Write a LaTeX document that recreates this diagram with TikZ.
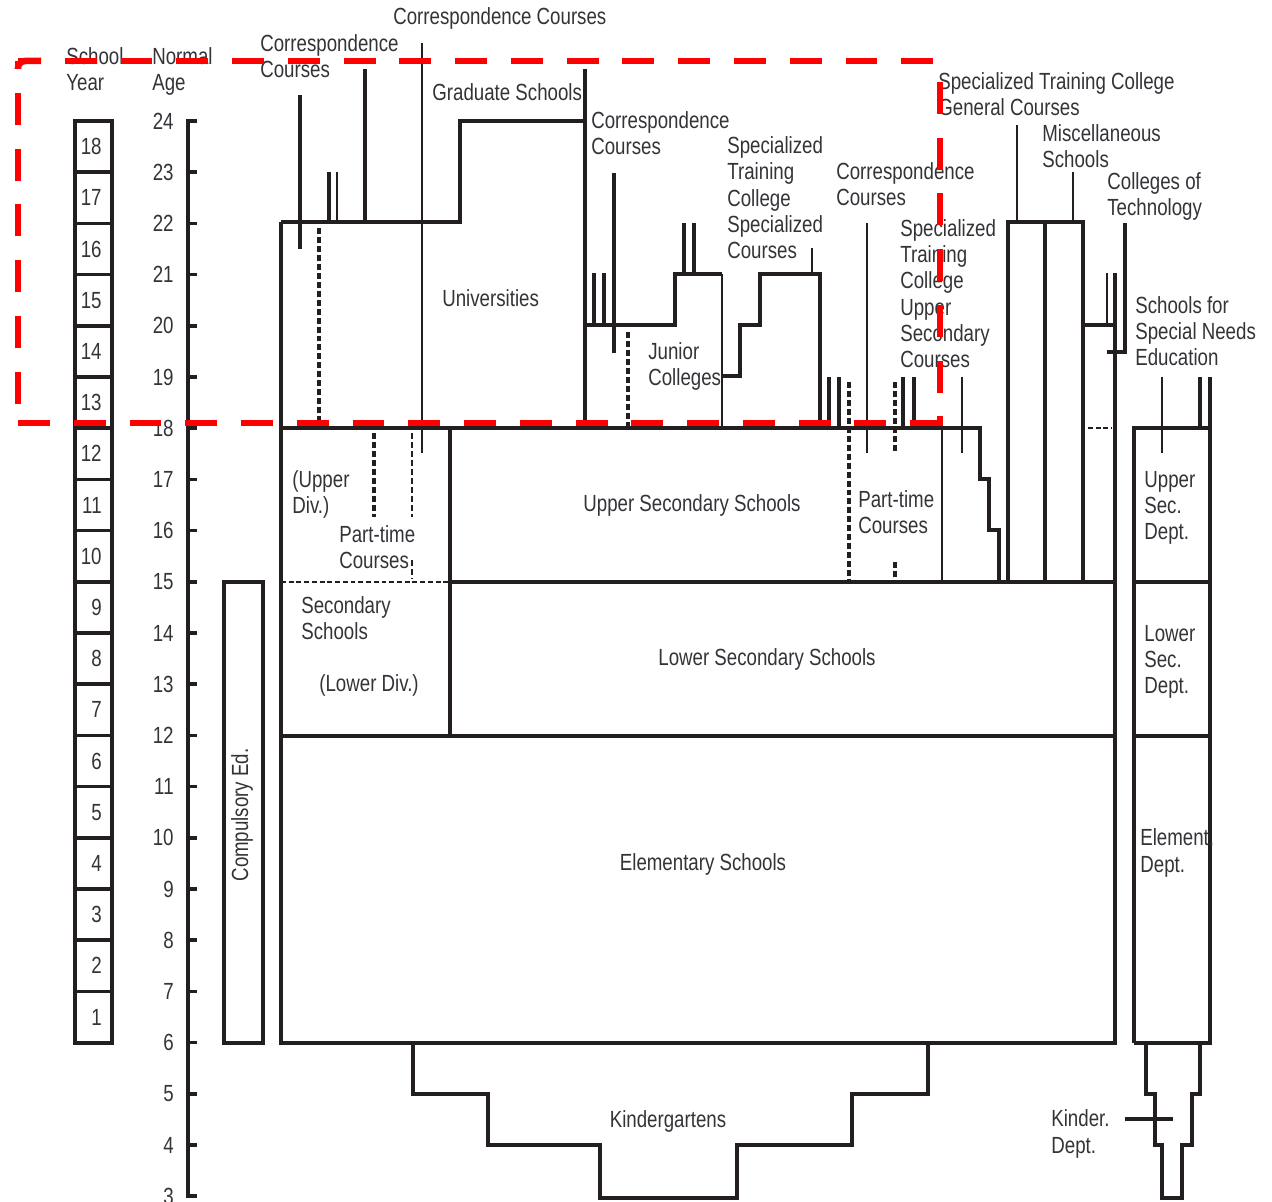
\documentclass[tikz,border=0pt]{standalone}
\usepackage{fontspec}
\setmainfont{Liberation Sans}[FakeStretch=0.8]
\definecolor{ln}{HTML}{231F20}
\definecolor{tx}{HTML}{333338}
\begin{document}
\begin{tikzpicture}[x=0.02cm,y=-0.02cm,
  thk/.style={draw=ln,line width=2.1pt},
  thn/.style={draw=ln,line width=0.9pt},
  dotk/.style={draw=ln,line width=2.1pt,dash pattern=on 3.4pt off 1.7pt},
  dotn/.style={draw=ln,line width=0.9pt,dash pattern=on 3.4pt off 1.7pt},
  dsh/.style={draw=ln,line width=0.9pt,dash pattern=on 2.8pt off 1.6pt},
  lbl/.style={text=tx,font=\fontsize{13.3}{15}\selectfont,inner sep=0pt,align=left,anchor=base west},
  clbl/.style={lbl,anchor=base,align=center},
  num/.style={text=tx,font=\fontsize{13.3}{15}\selectfont,inner sep=0pt,anchor=east},
  redb/.style={draw=red,line width=3.7pt,dash pattern=on 18.14pt off 13.6pt},
]
\useasboundingbox (0,0) rectangle (1272,1202);

% ---- age axis
\draw[thk] (197,121) -- (188,121) -- (188,1196) -- (197,1196);
\foreach \a in {3,...,24}{
  \pgfmathsetmacro{\yy}{121+(24-\a)*51.2}
  \draw[thk] (188,\yy) -- (197,\yy);
  \node[num] (age\a) at (174,\yy) {\a};
}
% ---- school year column
\foreach \n in {1,...,18}{
  \pgfmathsetmacro{\yt}{121+(18-\n)*51.2}
  \pgfmathsetmacro{\yc}{\yt+25.6}
  \draw[thk] (75,\yt) -- (112,\yt);
  \node[num] (yr\n) at (102,\yc) {\n};
}
\draw[thk] (75,121) rectangle (112,1043);

% labels are anchored at the baseline of their last line
\node[lbl] (hdrsy) at (66,91) {School\\Year};
\node[lbl] (hdrna) at (152,91) {Normal\\Age};

% ---- compulsory
\draw[thk] (224,582) rectangle (263,1043);
\node[text=tx,font=\fontsize{13.3}{15}\selectfont,inner sep=0pt,rotate=90] (ced) at (242,815) {Compulsory Ed.};

% ---- main frame
\draw[thk] (281,222) -- (281,1043) -- (1115,1043) -- (1115,273);
\draw[thk] (281,736) -- (1115,736);
\draw[dsh] (281,582) -- (450,582);
\draw[thk] (450,582) -- (1115,582);
\draw[thk] (450,428) -- (450,736);
\draw[thk] (281,428) -- (980,428) -- (980,479) -- (989,479) -- (989,530) -- (999,530) -- (999,582);

% ---- universities / graduate
\draw[thk] (281,222) -- (460,222) -- (460,121) -- (585,121);
\draw[thk] (585,69) -- (585,428);
\draw[thk] (300,95) -- (300,249);
\draw[thk] (329,172) -- (329,222);
\draw[thn] (337,172) -- (337,222);
\draw[thk] (365,69) -- (365,222);
\draw[thn] (422,43) -- (422,453);
\draw[dotk] (319,228) -- (319,426);
\draw[dotk] (374,433) -- (374,517);
\draw[dotn] (412,433) -- (412,517);
\draw[dotn] (412,560) -- (412,578);

% ---- junior colleges
\draw[thk] (594,273) -- (594,325);
\draw[thk] (604,273) -- (604,325);
\draw[thk] (614,173) -- (614,353);
\draw[thk] (585,325) -- (675,325) -- (675,274) -- (722,274);
\draw[thn] (722,274) -- (722,428);
\draw[thk] (684,223) -- (684,274);
\draw[thk] (694,223) -- (694,274);
\draw[dotk] (628,332) -- (628,426);

% ---- specialized training college
\draw[thk] (722,376) -- (740,376) -- (740,325) -- (760,325) -- (760,274) -- (820,274) -- (820,428);
\draw[thn] (812,248) -- (812,274);
\draw[thk] (829,377) -- (829,428);
\draw[thk] (839,377) -- (839,428);
\draw[dotk] (849,382) -- (849,582);
\draw[thn] (867,223) -- (867,453);
\draw[dotk] (895,382) -- (895,453);
\draw[dotk] (895,562) -- (895,578);
\draw[thk] (903,377) -- (903,428);
\draw[thk] (914,377) -- (914,428);
\draw[thn] (962,377) -- (962,453);
\draw[thn] (942,428) -- (942,582);

% ---- general courses & miscellaneous
\draw[thk] (1008,582) -- (1008,222) -- (1083,222) -- (1083,582);
\draw[thk] (1045,222) -- (1045,582);
\draw[thn] (1017,125) -- (1017,222);
\draw[thn] (1073,172) -- (1073,222);

% ---- colleges of technology
\draw[thk] (1083,325) -- (1115,325);
\draw[thn] (1107,273) -- (1107,325);
\draw[thk] (1125,223) -- (1125,352) -- (1107,352);
\draw[dsh] (1088,428) -- (1112,428);

% ---- special needs
\draw[thk] (1134,1043) -- (1134,428) -- (1210,428);
\draw[thk] (1210,377) -- (1210,1043) -- (1134,1043);
\draw[thk] (1200,377) -- (1200,428);
\draw[thk] (1134,582) -- (1210,582);
\draw[thk] (1134,736) -- (1210,736);
\draw[thn] (1162,377) -- (1162,453);

% ---- kinder dept
\draw[thk] (1146,1043) -- (1146,1094) -- (1155,1094) -- (1155,1145) -- (1162,1145) -- (1162,1198) -- (1182,1198) -- (1182,1145) -- (1192,1145) -- (1192,1094) -- (1200,1094) -- (1200,1043);
\draw[thk] (1125,1119) -- (1173,1119);

% ---- kindergartens
\draw[thk] (413,1043) -- (413,1094) -- (488,1094) -- (488,1145) -- (600,1145) -- (600,1198) -- (737,1198) -- (737,1145) -- (852,1145) -- (852,1094) -- (928,1094) -- (928,1043);

% ---- labels
\node[lbl] (cc0) at (393,25) {Correspondence Courses};
\node[lbl] (cc1) at (260,78) {Correspondence\\Courses};
\node[lbl] (grad) at (432,101) {Graduate Schools};
\node[lbl] (univ) at (442,307) {Universities};
\node[lbl] (cc2) at (591,155) {Correspondence\\Courses};
\node[lbl] (stcs) at (727,259) {Specialized\\Training\\College\\Specialized\\Courses};
\node[lbl] (cc3) at (836,206) {Correspondence\\Courses};
\node[lbl] (jc) at (648,386) {Junior\\Colleges};
\node[lbl] (stcu) at (900,368) {Specialized\\Training\\College\\Upper\\Secondary\\Courses};
\node[lbl] (stcg) at (938,116) {Specialized Training College\\General Courses};
\node[lbl] (misc) at (1042,168) {Miscellaneous\\Schools};
\node[lbl] (ct) at (1107,216) {Colleges of\\Technology};
\node[lbl] (sne) at (1135,366) {Schools for\\Special Needs\\Education};
\node[lbl] (updiv) at (292,514) {(Upper\\Div.)};
\node[lbl] (pt1) at (339,569) {Part-time\\Courses};
\node[clbl] (uss) at (692,512) {Upper Secondary Schools};
\node[lbl] (pt2) at (858,534) {Part-time\\Courses};
\node[lbl] (usd) at (1144,540) {Upper\\Sec.\\Dept.};
\node[lbl] (ss) at (301,640) {Secondary\\Schools};
\node[lbl] (lowdiv) at (319,692) {(Lower Div.)};
\node[clbl] (lss) at (767,666) {Lower Secondary Schools};
\node[lbl] (lsd) at (1144,694) {Lower\\Sec.\\Dept.};
\node[clbl] (els) at (703,870) {Elementary Schools};
\node[lbl] (eld) at (1140,872) {Element.\\Dept.};
\node[clbl] (kg) at (668,1127) {Kindergartens};
\node[lbl] (kd) at (1051,1153) {Kinder.\\Dept.};

% ---- red dashed highlight
\draw[redb] (18,423) -- (940,423);
\draw[redb,dash phase=13.6pt] (18,61) -- (18,423);
\draw[redb,dash phase=5.1pt] (18,61) -- (940,61);
\draw[redb,dash phase=19.84pt] (940,61) -- (940,423);
\draw[red,line width=3.7pt,rounded corners=4pt] (18,69) -- (18,61) -- (41,61);
\draw[red,line width=3.7pt] (914,423) -- (940,423) -- (940,418);
\end{tikzpicture}
\end{document}
